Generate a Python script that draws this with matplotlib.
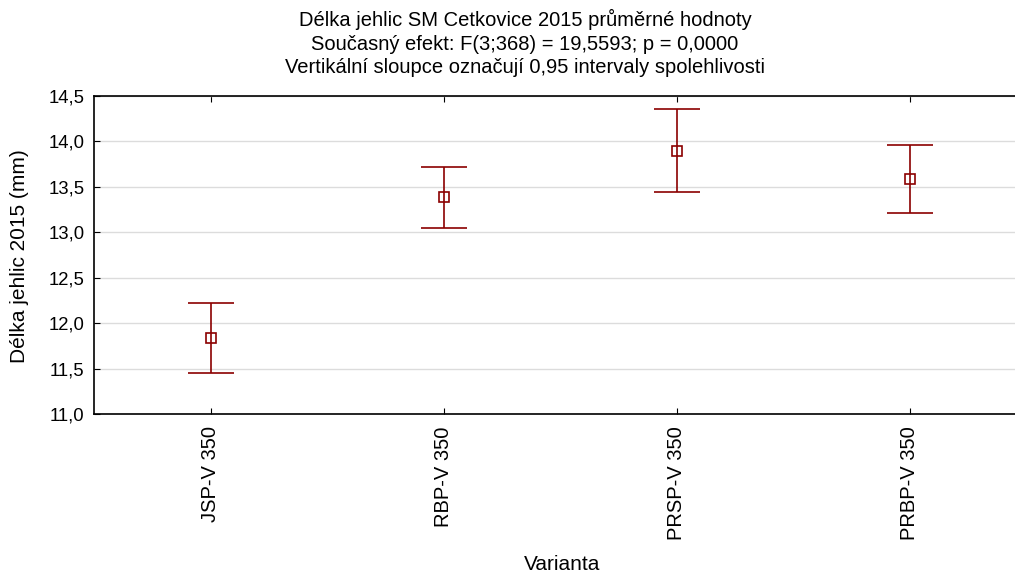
import matplotlib
matplotlib.use("Agg")
import matplotlib.pyplot as plt
from matplotlib.ticker import FuncFormatter

plt.rcParams['font.family'] = ['Liberation Sans', 'DejaVu Sans']

varianty = ["JSP-V 350", "RBP-V 350", "PRSP-V 350", "PRBP-V 350"]
prumer = [11.84, 13.39, 13.90, 13.59]
horni = [12.22, 13.72, 14.36, 13.96]
dolni = [11.45, 13.05, 13.44, 13.21]

x = list(range(len(varianty)))
err = [[p - d for p, d in zip(prumer, dolni)],
       [h - p for p, h in zip(prumer, horni)]]

fig = plt.figure(figsize=(10.15, 5.74), dpi=100)
ax = fig.add_axes([94/1015, 1 - 414/574, (1026-94)/1015, (414-96)/574])

ax.errorbar(x, prumer, yerr=err, fmt='s', color='#8b0000', ecolor='#8b0000',
            mfc='none', mec='#8b0000', ms=7, mew=1.2, elinewidth=1.2,
            capsize=16.5, capthick=1.5)

ax.set_xlim(-0.5, 3.5)
ax.set_ylim(11.0, 14.5)
ax.set_yticks([11.0, 11.5, 12.0, 12.5, 13.0, 13.5, 14.0, 14.5])
ax.yaxis.set_major_formatter(FuncFormatter(lambda v, p: f"{v:.1f}".replace(".", ",")))
ax.set_xticks(x)
ax.set_xticklabels(varianty, rotation=90, fontsize=14.5)
ax.tick_params(axis='y', labelsize=13.3, direction='in', length=4, pad=7)
ax.tick_params(axis='x', direction='in', length=4, top=True, pad=9)
ax.grid(axis='y', color='#dcdcdc', linewidth=1)
ax.set_axisbelow(True)
ax.spines['right'].set_visible(False)
for s in ['left', 'bottom', 'top']:
    ax.spines[s].set_linewidth(1.2)

fig.text(20/1015, 1 - 256/574, "Délka jehlic 2015 (mm)", rotation=90,
         ha='center', va='center', fontsize=15)
fig.text(562/1015, 1 - 565/574, "Varianta", ha='center', va='center', fontsize=15)

fig.text(525/1015, 1 - 43/574,
         "Délka jehlic SM Cetkovice 2015 průměrné hodnoty\n"
         "Současný efekt: F(3;368) = 19,5593; p = 0,0000\n"
         "Vertikální sloupce označují 0,95 intervaly spolehlivosti",
         ha='center', va='center', fontsize=14.5, linespacing=1.27)

fig.savefig("out.png", dpi=100)
